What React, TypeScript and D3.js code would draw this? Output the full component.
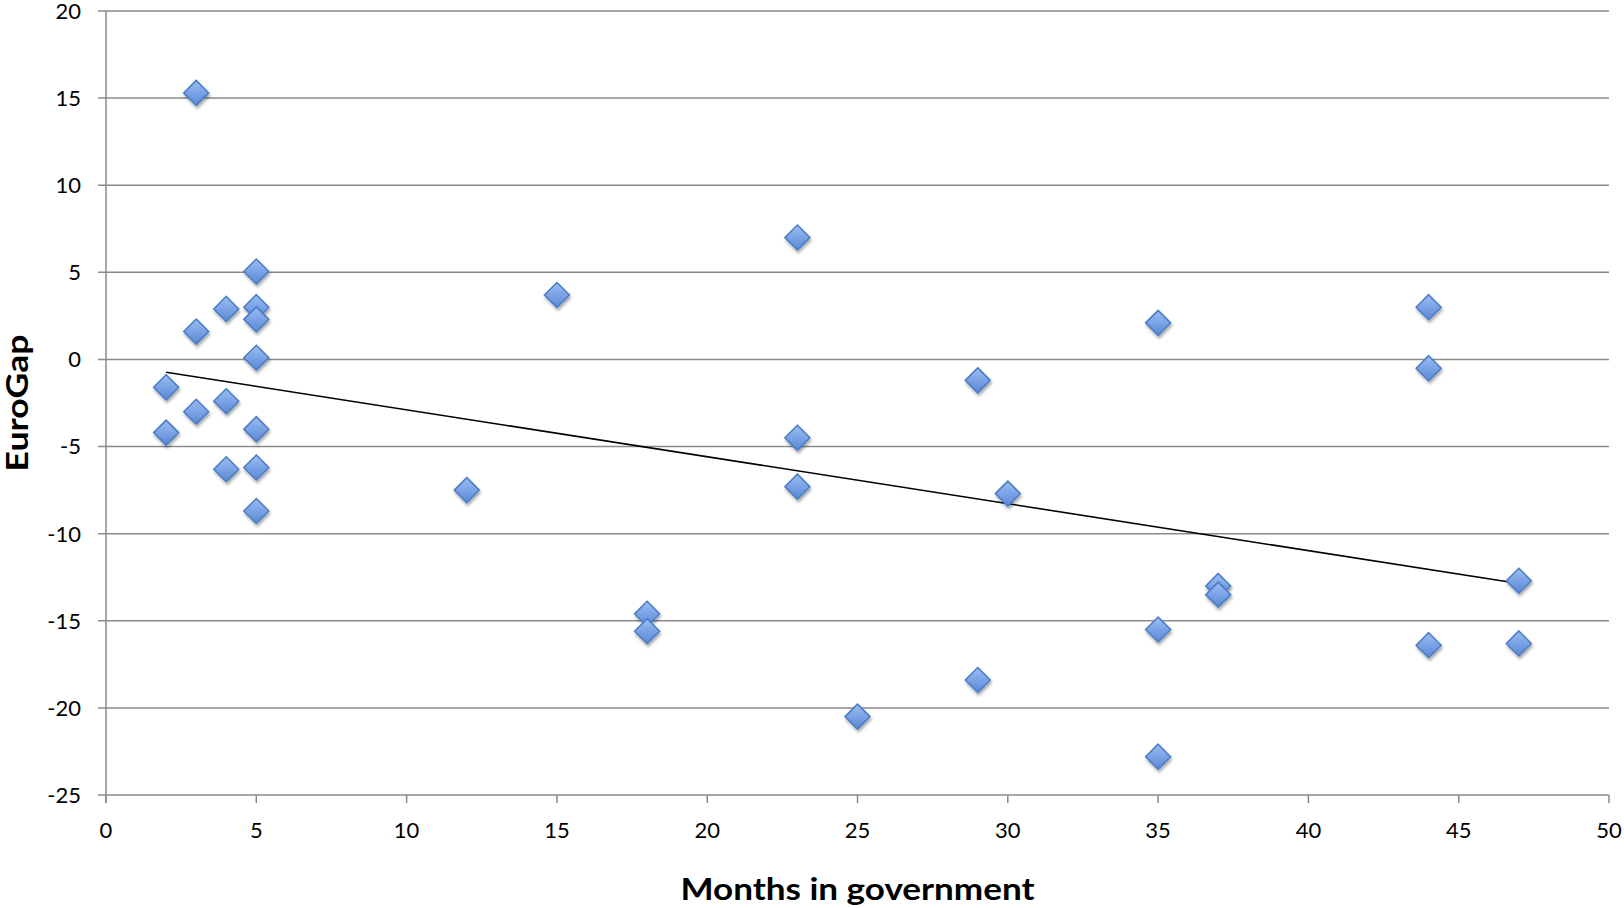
import React from "react";
import * as d3 from "d3";

const months: number[] = [
  3, 2, 2, 3, 3, 4, 4, 4,
  5, 5, 5, 5, 5, 5, 5,
  12, 15, 18, 18,
  23, 23, 23, 25, 29, 29, 30,
  35, 35, 35, 37, 37,
  44, 44, 44, 47, 47,
];
const euroGap: number[] = [
  15.3, -1.6, -4.2, 1.6, -3.0, 2.9, -2.4, -6.3,
  5.05, 3.0, 2.3, 0.1, -4.0, -6.2, -8.7,
  -7.5, 3.7, -14.6, -15.6,
  7.0, -4.5, -7.3, -20.5, -1.2, -18.4, -7.7,
  2.1, -15.5, -22.8, -13.0, -13.5,
  3.0, -0.5, -16.4, -12.7, -16.3,
];
const xTicks: number[] = [0, 5, 10, 15, 20, 25, 30, 35, 40, 45, 50];
const yTicks: number[] = [20, 15, 10, 5, 0, -5, -10, -15, -20, -25];
const xTitle = "Months in government";
const yTitle = "EuroGap";

const W = 1624;
const H = 908;
const FONT = "Lato, 'Open Sans', sans-serif";

export default function App() {
  const x = d3.scaleLinear().domain([0, 50]).range([106, 1609]);
  const y = d3.scaleLinear().domain([-25, 20]).range([795, 11]);

  const n = months.length;
  const mx = d3.mean(months) as number;
  const my = d3.mean(euroGap) as number;
  let sxy = 0;
  let sxx = 0;
  for (let i = 0; i < n; i++) {
    sxy += (months[i] - mx) * (euroGap[i] - my);
    sxx += (months[i] - mx) ** 2;
  }
  const slope = sxy / sxx;
  const icpt = my - slope * mx;
  const xMin = d3.min(months) as number;
  const xMax = d3.max(months) as number;
  const line = d3.line<number>().x((d) => x(d)).y((d) => y(icpt + slope * d));

  const s = 12.5;
  const diamond = `M0,${-s}L${s},0L0,${s}L${-s},0Z`;
  const grid = "#8a8a8a";

  return (
    <div style={{ position: "fixed", left: 0, top: 0 }}>
      <svg width={W} height={H} style={{ display: "block", background: "#fff" }}>
        <defs>
          <linearGradient id="mk" x1="0" y1="0" x2="0" y2="1">
            <stop offset="0" stopColor="#9cbdf0" />
            <stop offset="0.5" stopColor="#7aa3e6" />
            <stop offset="1" stopColor="#5b88d4" />
          </linearGradient>
          <filter id="sh" x="-50%" y="-50%" width="200%" height="200%">
            <feDropShadow dx="1" dy="2.5" stdDeviation="1.6" floodColor="#000" floodOpacity="0.35" />
          </filter>
        </defs>
        {yTicks.map((t) => (
          <line key={"g" + t} x1={98} x2={1609} y1={y(t)} y2={y(t)} stroke={grid} strokeWidth={1.5} />
        ))}
        <line x1={x(0)} x2={x(0)} y1={y(20)} y2={y(-25) + 8} stroke={grid} strokeWidth={1.5} />
        {xTicks.map((t) => (
          <line key={"xt" + t} x1={x(t)} x2={x(t)} y1={y(-25)} y2={y(-25) + 8} stroke={grid} strokeWidth={1.5} />
        ))}
        {yTicks.map((t) => (
          <text key={"yl" + t} x={81} y={y(t)} dy="0.36em" textAnchor="end" fontFamily={FONT} fontSize={22} fill="#000">
            {t}
          </text>
        ))}
        {xTicks.map((t) => (
          <text key={"xl" + t} x={x(t)} y={838} textAnchor="middle" fontFamily={FONT} fontSize={22} fill="#000">
            {t}
          </text>
        ))}
        <path d={line([xMin, xMax]) || ""} stroke="#000" strokeWidth={1.6} fill="none" />
        {months.map((m, i) => (
          <path
            key={"p" + i}
            d={diamond}
            transform={`translate(${x(m)},${y(euroGap[i])})`}
            fill="url(#mk)"
            stroke="#4a7dc4"
            strokeWidth={1.5}
            filter="url(#sh)"
          />
        ))}
        <text
          x={(x(0) + x(50)) / 2}
          y={900}
          textAnchor="middle"
          fontFamily={FONT}
          fontSize={31}
          fontWeight="bold"
          textLength={354}
          lengthAdjust="spacingAndGlyphs"
          fill="#000"
        >
          {xTitle}
        </text>
        <text
          transform={`translate(28,${(y(20) + y(-25)) / 2}) rotate(-90)`}
          textAnchor="middle"
          fontFamily={FONT}
          fontSize={31}
          fontWeight="bold"
          textLength={137}
          lengthAdjust="spacingAndGlyphs"
          fill="#000"
        >
          {yTitle}
        </text>
      </svg>
    </div>
  );
}
